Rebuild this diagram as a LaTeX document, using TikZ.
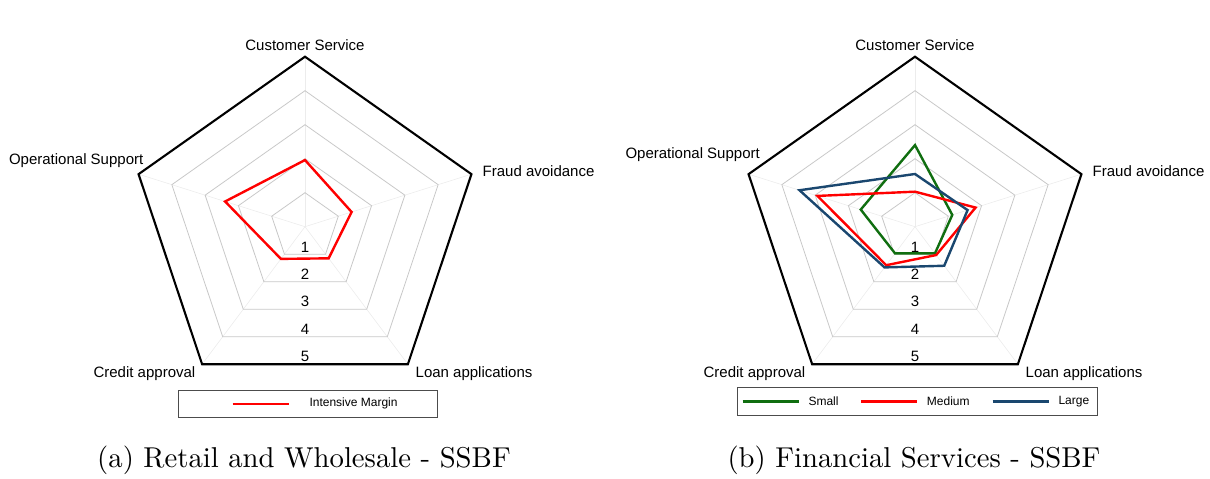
\documentclass[tikz,border=0pt]{standalone}
\usepackage{fontspec}
\newfontfamily\arial{Liberation Sans}

\definecolor{smallgreen}{RGB}{16,110,16}
\definecolor{largeblue}{RGB}{26,71,111}
\definecolor{gridgray}{RGB}{200,200,200}
\definecolor{spokegray}{RGB}{236,236,236}

\tikzset{
  axislabel/.style={font=\arial\fontsize{15}{18}\selectfont, inner sep=0pt},
  ringlabel/.style={font=\arial\fontsize{15}{18}\selectfont, inner sep=0pt},
  legendtext/.style={font=\arial\fontsize{12}{14}\selectfont, inner sep=0pt, anchor=west},
  subcaption/.style={inner sep=0pt},
  gridring/.style={draw=gridgray, line width=0.8pt},
  outerring/.style={draw=black, line width=2.1pt, line join=miter},
  spoke/.style={draw=spokegray, line width=0.6pt},
  series/.style={line width=2.4pt, line join=miter},
  legendbox/.style={draw=black!70, line width=1pt},
}

% pentagonal grid of one radar chart, drawn in chart units
\newcommand\radarframe{%
  \foreach \a in {90,18,-54,234,162} \draw[spoke] (0,0) -- (\a:5);
  \foreach \r in {1,...,4}
    \draw[gridring] (90:\r) -- (18:\r) -- (-54:\r) -- (234:\r) -- (162:\r) -- cycle;
  \draw[outerring] (90:5) -- (18:5) -- (-54:5) -- (234:5) -- (162:5) -- cycle;
}
% one data series: Customer Service, Fraud, Loan, Credit, Operational
\newcommand\radarseries[6]{%
  \draw[series,draw=#1] (90:#2) -- (18:#3) -- (-54:#4) -- (234:#5) -- (162:#6) -- cycle;
}

\begin{document}
\begin{tikzpicture}[x=1pt,y=1pt]
\useasboundingbox (0,0) rectangle (1210,-479);

% ---------------- (a) Retail and Wholesale ----------------
\begin{scope}[shift={(305pt,-226.7pt)}, x=35pt, y=34pt]
  \radarframe
  \radarseries{red}{1.96}{1.40}{1.15}{1.17}{2.40}
\end{scope}

\node[axislabel] (csA) at (305,-45.5) {Customer Service};
\node[axislabel, anchor=east] (opA) at (143.5,-161) {Operational Support};
\node[axislabel, anchor=west] (frA) at (482.5,-171) {Fraud avoidance};
\node[axislabel, anchor=east] (crA) at (195.5,-374) {Credit approval};
\node[axislabel, anchor=west] (loA) at (415.5,-374) {Loan applications};

\foreach \k/\yy in {1/247.2,2/274.6,3/301.6,4/329.2,5/356}
  \node[ringlabel] (ringA\k) at (305,-\yy) {\k};

\node[legendbox, minimum width=258.4pt, minimum height=27pt, anchor=north west, inner sep=0pt] (legA) at (178.3,-390) {};
\coordinate (swA0) at (232.7,-403.8);
\coordinate (swA1) at (289,-403.8);
\draw[series, draw=red] (swA0) -- (swA1);
\node[legendtext] (legAt) at (309.3,-403.8) {Intensive Margin};

\node[subcaption] (capA) at (304,-460.5) {\scalebox{2.87}{\normalsize (a) Retail and Wholesale - SSBF}};

% ---------------- (b) Financial Services ----------------
\begin{scope}[shift={(915pt,-226.7pt)}, x=35pt, y=34pt]
  \radarframe
  \radarseries{smallgreen}{2.40}{1.12}{0.97}{0.97}{1.63}
  \radarseries{red}{1.03}{1.82}{1.03}{1.40}{2.93}
  \radarseries{largeblue}{1.55}{1.58}{1.42}{1.48}{3.47}
\end{scope}

\node[axislabel] (csB) at (915,-45.5) {Customer Service};
\node[axislabel, anchor=east] (opB) at (760,-154.5) {Operational Support};
\node[axislabel, anchor=west] (frB) at (1092.5,-171) {Fraud avoidance};
\node[axislabel, anchor=east] (crB) at (805.5,-374) {Credit approval};
\node[axislabel, anchor=west] (loB) at (1025.5,-374) {Loan applications};

\foreach \k/\yy in {1/247.2,2/274.6,3/301.6,4/329.2,5/356}
  \node[ringlabel] (ringB\k) at (915,-\yy) {\k};

\node[legendbox, minimum width=360pt, minimum height=27.7pt, anchor=north west, inner sep=0pt] (legB) at (736.7,-387.3) {};
\coordinate (swS0) at (742.7,-401.5);
\coordinate (swS1) at (799,-401.5);
\coordinate (swM0) at (861,-401.5);
\coordinate (swM1) at (917.3,-401.5);
\coordinate (swL0) at (992.7,-401.5);
\coordinate (swL1) at (1049,-401.5);
\draw[series, draw=smallgreen] (swS0) -- (swS1);
\draw[series, draw=red] (swM0) -- (swM1);
\draw[series, draw=largeblue] (swL0) -- (swL1);
\node[legendtext] (legBs) at (808.3,-401.5) {Small};
\node[legendtext] (legBm) at (926.7,-401.5) {Medium};
\node[legendtext] (legBl) at (1058.3,-401.5) {Large};

\node[subcaption] (capB) at (914,-460.5) {\scalebox{2.87}{\normalsize (b) Financial Services - SSBF}};
\end{tikzpicture}
\end{document}
